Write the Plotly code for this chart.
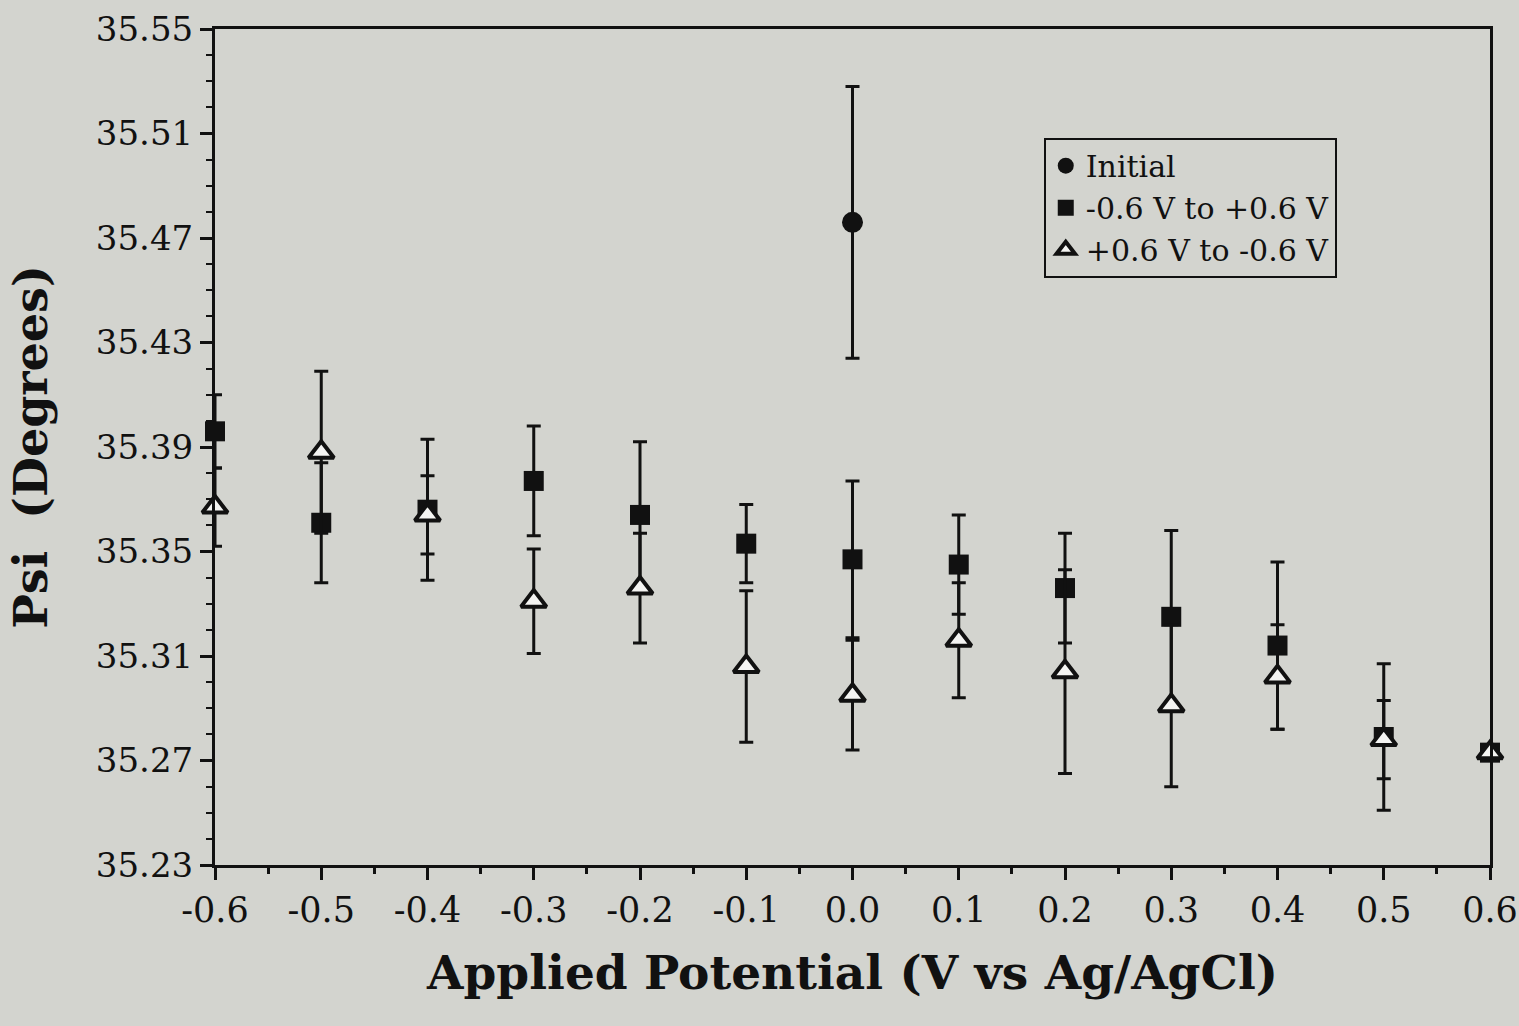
import plotly.graph_objects as go

# ---- data ----
potential = [-0.6, -0.5, -0.4, -0.3, -0.2, -0.1, 0.0, 0.1, 0.2, 0.3, 0.4, 0.5, 0.6]

initial_x = [0.0]
initial_psi = [35.476]
initial_err = [0.052]

fwd_psi = [35.396, 35.361, 35.366, 35.377, 35.364, 35.353, 35.347, 35.345, 35.336, 35.325, 35.314, 35.279, 35.273]
fwd_err = [0.014, 0.023, 0.027, 0.021, 0.028, 0.015, 0.030, 0.019, 0.021, 0.033, 0.032, 0.028, 0.0]

rev_psi = [35.367, 35.388, 35.364, 35.331, 35.336, 35.306, 35.295, 35.316, 35.304, 35.291, 35.302, 35.278, 35.273]
rev_err = [0.015, 0.031, 0.015, 0.020, 0.021, 0.029, 0.021, 0.022, 0.039, 0.031, 0.020, 0.015, 0.0]

x_ticks = [-0.6, -0.5, -0.4, -0.3, -0.2, -0.1, 0.0, 0.1, 0.2, 0.3, 0.4, 0.5, 0.6]
x_ticklabels = ["-0.6", "-0.5", "-0.4", "-0.3", "-0.2", "-0.1", "0.0", "0.1", "0.2", "0.3", "0.4", "0.5", "0.6"]
y_ticks = [35.23, 35.27, 35.31, 35.35, 35.39, 35.43, 35.47, 35.51, 35.55]
y_ticklabels = ["35.23", "35.27", "35.31", "35.35", "35.39", "35.43", "35.47", "35.51", "35.55"]

names = ["Initial", "-0.6 V to +0.6 V", "+0.6 V to -0.6 V"]

BG = "#d3d4cf"
INK = "#111111"
SERIF = "DejaVu Serif, Liberation Serif, serif"

def ebar(vals):
    return dict(type="data", array=vals, visible=True, color=INK, thickness=3, width=7)

fig = go.Figure()
fig.add_trace(go.Scatter(
    x=initial_x, y=initial_psi, mode="markers", name=names[0],
    marker=dict(symbol="circle", size=21, color=INK),
    error_y=ebar(initial_err), cliponaxis=False))
fig.add_trace(go.Scatter(
    x=potential, y=fwd_psi, mode="markers", name=names[1],
    marker=dict(symbol="square", size=20, color=INK),
    error_y=ebar(fwd_err), cliponaxis=False))
fig.add_trace(go.Scatter(
    x=potential, y=rev_psi, mode="markers", name=names[2],
    marker=dict(symbol="triangle-up", size=22, color="#f4f4f2",
                line=dict(color=INK, width=4)),
    error_y=ebar(rev_err), cliponaxis=False))

fig.update_layout(
    width=1519, height=1026,
    margin=dict(l=215, r=29, t=29, b=161),
    paper_bgcolor=BG, plot_bgcolor=BG,
    font=dict(family=SERIF, color=INK),
    showlegend=True,
    legend=dict(
        x=0.650, y=0.870, xanchor="left", yanchor="top",
        bgcolor=BG, bordercolor=INK, borderwidth=2,
        font=dict(family=SERIF, size=30, color=INK),
        tracegroupgap=0, itemsizing="trace",
    ),
)

fig.update_xaxes(
    range=[-0.6, 0.6], tickvals=x_ticks, ticktext=x_ticklabels,
    automargin=False,
    showgrid=False, zeroline=False,
    showline=True, linecolor=INK, linewidth=3, mirror=True,
    ticks="outside", ticklen=12, tickwidth=3, tickcolor=INK,
    tickfont=dict(family=SERIF, size=35, color=INK),
    minor=dict(dtick=0.05, tick0=0, ticks="outside", ticklen=6, tickwidth=3, tickcolor=INK),
    title=dict(text="<b>Applied Potential (V vs Ag/AgCl)</b>",
               font=dict(family=SERIF, size=47, color=INK), standoff=28),
)
fig.update_yaxes(
    range=[35.23, 35.55], tickvals=y_ticks, ticktext=y_ticklabels,
    automargin=False,
    showgrid=False, zeroline=False,
    showline=True, linecolor=INK, linewidth=3, mirror=True,
    ticks="outside", ticklen=12, tickwidth=3, tickcolor=INK,
    tickfont=dict(family=SERIF, size=34, color=INK),
    minor=dict(dtick=0.01, tick0=35.23, ticks="outside", ticklen=6, tickwidth=2, tickcolor=INK),
    title=dict(text="<b>Psi  (Degrees)</b>",
               font=dict(family=SERIF, size=46, color=INK), standoff=34),
)

fig.write_html("out.html")
